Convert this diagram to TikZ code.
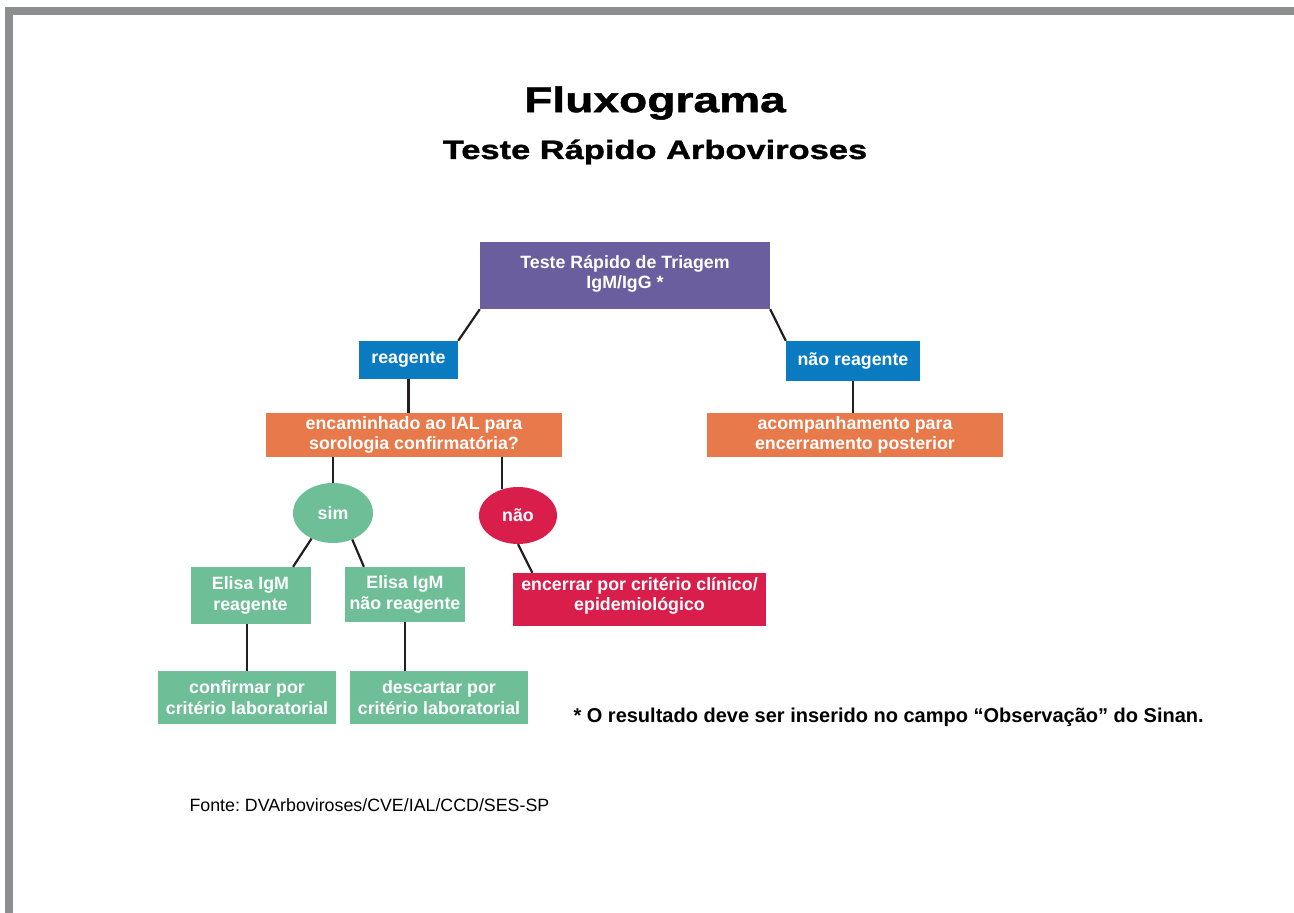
\documentclass[tikz,border=0pt]{standalone}
\usepackage{fontspec}
\setmainfont{Liberation Sans}
\newfontfamily\blackfont[FakeBold=1.4,FakeStretch=1.3]{Liberation Sans}
\usetikzlibrary{shapes.geometric}
\frenchspacing

\definecolor{borda}{HTML}{8C8E90}
\definecolor{roxo}{HTML}{6B5E9F}
\definecolor{azul}{HTML}{0A7BC1}
\definecolor{laranja}{HTML}{E8794A}
\definecolor{verde}{HTML}{6EBF98}
\definecolor{vermelho}{HTML}{DA1E4B}
\definecolor{linha}{HTML}{231F20}

\tikzset{
	caixa/.style={rectangle, fill=#1, text=white, align=center, inner sep=0pt,
		font=\bfseries\fontsize{17.8}{20.5}\selectfont},
	oval/.style={ellipse, fill=#1, text=white, inner sep=0pt,
		font=\bfseries\fontsize{17.8}{20.5}\selectfont},
	liga/.style={line width=2.2pt, draw=linha}
}

\begin{document}
\begin{tikzpicture}[x=1pt, y=-1pt]
		\useasboundingbox (0,0) rectangle (1294,913);
		% moldura
		\fill[borda] (5,7) rectangle (1294,15);
		\fill[borda] (5,7) rectangle (13,913);
		
		% titulos
		\node (titulo) at (655,103) {\blackfont\bfseries\fontsize{35.5}{40}\selectfont Fluxograma};
		\node (subtitulo) at (655,152) {\blackfont\bfseries\fontsize{26.5}{30}\selectfont Teste Rápido Arboviroses};
		
		% caixas
		\node[caixa=roxo, minimum width=290pt, minimum height=67pt] (triagem) at (625,275.5) {Teste Rápido de Triagem\\IgM/IgG *\\[-13pt]};
		\node[caixa=azul, minimum width=99pt, minimum height=38pt] (reag) at (408.5,360) {reagente};
		\node[caixa=azul, minimum width=134pt, minimum height=40pt] (naoreag) at (853,361) {não reagente};
		\node[caixa=laranja, minimum width=296pt, minimum height=44pt] (encam) at (414,435) {encaminhado ao IAL para\\sorologia confirmatória?};
		\node[caixa=laranja, minimum width=296pt, minimum height=44pt] (acomp) at (855,435) {acompanhamento para\\encerramento posterior};
		\node[oval=verde, minimum width=80pt, minimum height=60pt] (sim) at (333,513) {sim};
		\node[oval=vermelho, minimum width=78pt, minimum height=57pt] (nao) at (518,515.5) {não};
		\node[caixa=verde, minimum width=120pt, minimum height=57pt] (elisaR) at (250.5,595.5) {Elisa IgM\\reagente};
		\node[caixa=verde, minimum width=120pt, minimum height=55pt] (elisaN) at (405,594.5) {Elisa IgM\\não reagente};
		\node[caixa=vermelho, minimum width=253pt, minimum height=53pt] (encerrar) at (639.5,599.5) {encerrar por critério clínico/\\epidemiológico\\[-9.5pt]};
		\node[caixa=verde, minimum width=178pt, minimum height=53pt] (confirmar) at (247,697.5) {confirmar por\\critério laboratorial};
		\node[caixa=verde, minimum width=178pt, minimum height=53pt] (descartar) at (439,697.5) {descartar por\\critério laboratorial};
		
		% ligacoes
		\begin{scope}[liga]
			\draw (triagem.south west) -- (reag.north east);
			\draw (triagem.south east) -- (naoreag.north west);
			\draw (reag.south) -- (reag.south |- encam.north);
			\draw (naoreag.south) -- (naoreag.south |- acomp.north);
			\draw (sim.north |- encam.south) -- (sim.north);
			\draw (nao.122 |- encam.south) -- (nao.122);
			\draw (sim.230) -- (elisaR.34);
			\draw (sim.306) -- (elisaN.146);
			\draw (nao.south) -- (encerrar.166);
			\draw (elisaR.south -| confirmar.north) -- (confirmar.north);
			\draw (elisaN.south) -- (elisaN.south |- descartar.north);
		\end{scope}
		
		% notas
		\node[anchor=west] (obs) at (570,717) {\bfseries\fontsize{20}{24}\selectfont * O resultado deve ser inserido no campo “Observação” do Sinan.};
		\node[anchor=west] (fonte) at (186,805) {\fontsize{17.8}{21}\selectfont Fonte: DVArboviroses/CVE/IAL/CCD/SES-SP};
	\end{tikzpicture}
\end{document}
